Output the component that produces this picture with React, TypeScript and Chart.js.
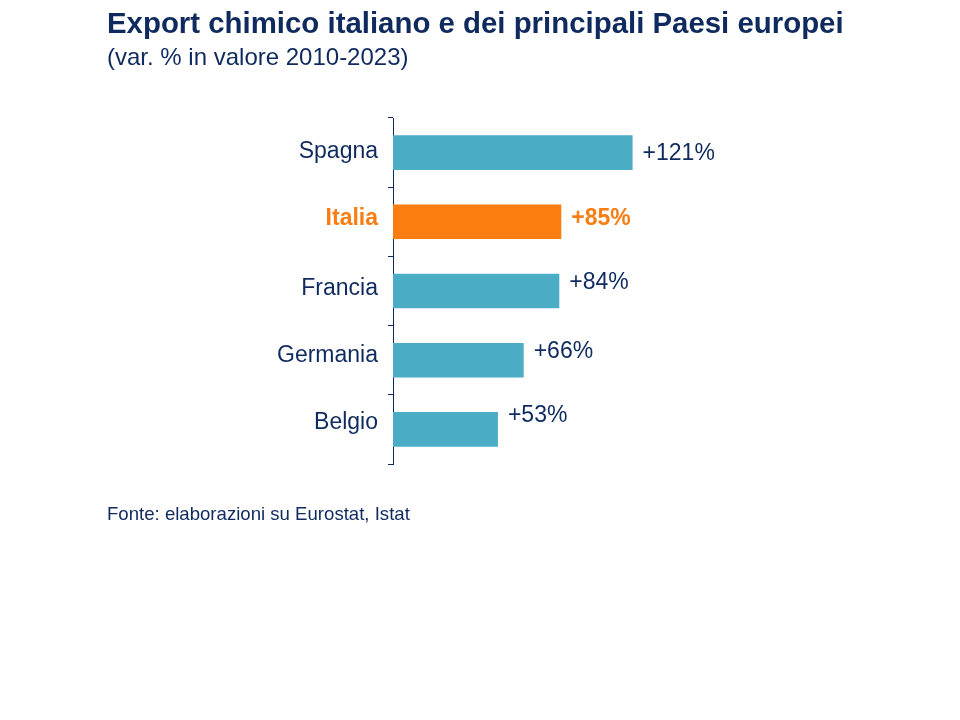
import React, { useEffect, useRef } from "react";
import { Chart, registerables } from "chart.js";

Chart.register(...registerables);

const categories = ["Spagna", "Italia", "Francia", "Germania", "Belgio"];
const values = [121, 85, 84, 66, 53];
const valueLabels = ["+121%", "+85%", "+84%", "+66%", "+53%"];
const highlight = "Italia";

const titleText = "Export chimico italiano e dei principali Paesi europei";
const subtitleText = "(var. % in valore 2010-2023)";
const sourceText = "Fonte: elaborazioni su Eurostat, Istat";

const NAVY = "#0E2A5E";
const TEAL = "#4BACC6";
const ORANGE = "#FA7D12";
const FONT = "'Liberation Sans', Arial, sans-serif";

export default function App() {
  const ref = useRef<HTMLCanvasElement | null>(null);

  useEffect(() => {
    if (!ref.current) return;
    const valueOffsets = [1, -3, -8, -9, -14];
    const catOffsets = [-1, -3, -2.5, -4.5, -6.5];
    const textPlugin = {
      id: "texts",
      afterDraw(chart: any) {
        const ctx = chart.ctx;
        ctx.save();
        ctx.fillStyle = NAVY;
        ctx.textAlign = "left";
        ctx.textBaseline = "alphabetic";
        ctx.font = `bold 29.4px ${FONT}`;
        ctx.fillText(titleText, 107, 33);
        ctx.font = `24px ${FONT}`;
        ctx.fillText(subtitleText, 107, 65);
        ctx.font = `18.6px ${FONT}`;
        ctx.fillText(sourceText, 107, 520);

        const meta = chart.getDatasetMeta(0);
        const left = chart.chartArea.left;
        meta.data.forEach((bar: any, i: number) => {
          const hl = categories[i] === highlight;
          ctx.fillStyle = hl ? ORANGE : NAVY;
          ctx.textBaseline = "middle";
          ctx.font = `${hl ? "bold " : ""}23px ${FONT}`;
          ctx.textAlign = "left";
          ctx.fillText(valueLabels[i], bar.x + 10, bar.y + valueOffsets[i]);
          ctx.textAlign = "right";
          ctx.fillText(categories[i], left - 15, bar.y + catOffsets[i]);
        });
        ctx.restore();
      },
    };

    const chart = new Chart(ref.current, {
      type: "bar",
      data: {
        labels: categories,
        datasets: [
          {
            data: values,
            backgroundColor: categories.map((c) => (c === highlight ? ORANGE : TEAL)),
            borderWidth: 0,
            barPercentage: 0.5,
            categoryPercentage: 1.0,
          },
        ],
      },
      options: {
        indexAxis: "y",
        responsive: false,
        animation: false,
        layout: { padding: { top: 118, bottom: 256, right: 270, left: 0 } },
        plugins: {
          legend: { display: false },
          tooltip: { enabled: false },
          title: { display: false },
        },
        scales: {
          x: { display: false, min: 0, max: 150 },
          y: {
            afterFit: (scale: any) => {
              scale.width = 393;
            },
            border: { display: true, color: NAVY, width: 1 },
            grid: {
              display: true,
              drawOnChartArea: false,
              drawTicks: true,
              tickLength: 5,
              color: NAVY,
              offset: true,
            },
            ticks: { display: false },
          },
        },
      },
      plugins: [textPlugin],
    });
    return () => chart.destroy();
  }, []);

  return (
    <div style={{ position: "fixed", left: 0, top: 0, width: 960, height: 720, background: "#fff" }}>
      <canvas ref={ref} width={960} height={720} />
    </div>
  );
}
